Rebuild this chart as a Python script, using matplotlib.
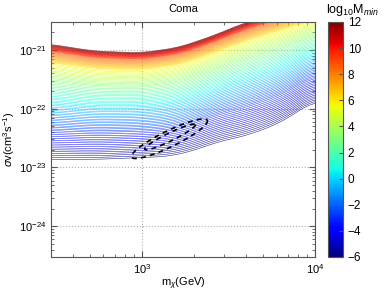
import numpy as np
import matplotlib
matplotlib.use("Agg")
import matplotlib.pyplot as plt
from matplotlib.cm import ScalarMappable
from matplotlib.colors import Normalize

plt.rcParams['font.family'] = ['Liberation Sans', 'DejaVu Sans']
plt.rcParams['mathtext.fontset'] = 'custom'
plt.rcParams['mathtext.rm'] = 'Liberation Sans'
plt.rcParams['mathtext.it'] = 'Liberation Sans:italic'

# lowest curve (log10 Mmin = -6)
mass_bot = [292, 562, 1000, 1435, 2005, 2623, 4188, 6260, 9740]
logsv_bot = [-22.86, -22.86, -22.83, -22.81, -22.71, -22.58, -22.44, -22.24, -21.88]
# highest curve (log10 Mmin = 12)
mass_top = [292, 530, 990, 1620, 2520, 3920, 6300, 10000]
logsv_top = [-20.90, -21.02, -21.05, -20.96, -20.77, -20.54, -20.36, -20.22]
# where each Mmin sits between the lowest and highest curve
mmin_anchor = [-6, -3, 0, 3, 6, 9, 12]
frac_anchor = [0.0, 0.25, 0.47, 0.67, 0.84, 0.94, 1.0]
levels = np.linspace(-6, 12, 91)

# dashed ellipses (log10 m, log10 sv): centre, semi-major, semi-minor vectors
ell_center = [(3.160, -22.51), (3.163, -22.48)]
ell_major = [(0.218, 0.314), (0.146, 0.210)]
ell_minor = [(0.021, -0.122), (0.010, -0.061)]


def smooth(v, n=31):
    pad = np.pad(v, n // 2, mode='edge')
    return np.convolve(pad, np.ones(n) / n, mode='valid')


lm = np.linspace(np.log10(292), 4, 300)
ls = np.linspace(-25, -19.5, 800)
bot = smooth(np.interp(lm, np.log10(mass_bot), logsv_bot))
top = smooth(np.interp(lm, np.log10(mass_top), logsv_top))
LM, LS = np.meshgrid(lm, ls)
frac = (LS - bot) / (top - bot)
Z = np.interp(frac, [-0.3] + frac_anchor + [1.3], [-9] + mmin_anchor + [15])

fig = plt.figure(figsize=(3.9, 2.93), dpi=100)
ax = fig.add_axes([0.131, 0.123, 0.677, 0.802])
cax = fig.add_axes([0.841, 0.123, 0.038, 0.802])

ax.contour(10**LM, 10**LS, Z, levels=levels, cmap='jet', vmin=-6, vmax=12,
           linewidths=0.4, alpha=0.85)

t = np.linspace(0, 2*np.pi, 200)
for c, a, b in zip(ell_center, ell_major, ell_minor):
    x = c[0] + a[0]*np.cos(t) + b[0]*np.sin(t)
    y = c[1] + a[1]*np.cos(t) + b[1]*np.sin(t)
    ax.plot(10**x, 10**y, color='black', lw=1.2, dashes=(3, 2.5))

ax.set_xscale('log')
ax.set_yscale('log')
ax.set_xlim(300, 1e4)
ax.set_ylim(3e-25, 3e-21)
ax.set_yticks([1e-24, 1e-23, 1e-22, 1e-21])
ax.set_xticks([1e3, 1e4])
ax.grid(True, which='major', ls=':', color='#b0b0b0', lw=0.8)
ax.tick_params(which='both', direction='in', top=True, right=True,
               labelsize=8, color='#555555')
ax.tick_params(which='major', length=4)
ax.tick_params(which='minor', length=2)
for s in ax.spines.values():
    s.set_color('#555555')

ax.set_title('Coma', fontsize=8, pad=7)
ax.set_xlabel(r'm$_\chi$(GeV)', fontsize=8, labelpad=0)
ax.set_ylabel(r'$\sigma$v(cm$^3$s$^{-1}$)', fontsize=8, labelpad=1)

sm = ScalarMappable(norm=Normalize(-6, 12), cmap='jet')
cb = fig.colorbar(sm, cax=cax, ticks=np.arange(-6, 13, 2))
cb.ax.tick_params(labelsize=8.5, direction='in', length=3, color='#555555')
cb.outline.set_edgecolor('#555555')
fig.text(0.905, 0.965, r'log$_{10}$M$_{min}$', fontsize=9, ha='center', va='center')

fig.savefig('out.png', dpi=100)
